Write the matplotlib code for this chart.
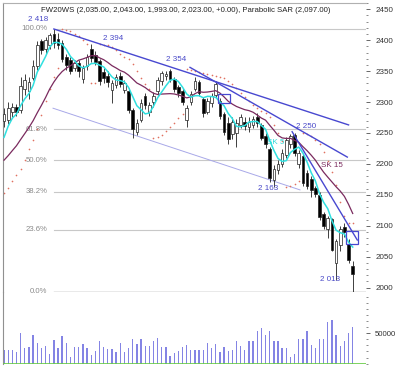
import matplotlib.pyplot as plt
import numpy as np
import pandas as pd
from matplotlib.patches import Rectangle
from matplotlib.ticker import MultipleLocator

plt.rcParams['font.family'] = ['Liberation Sans', 'DejaVu Sans']

# daily OHLC
opens = [2270, 2272, 2284, 2292, 2288, 2322, 2318, 2340, 2358, 2398,
         2386, 2392, 2410, 2402, 2395, 2372, 2368, 2356, 2362, 2337,
         2358, 2386, 2376, 2366, 2348, 2342, 2320, 2328, 2342, 2320,
         2318, 2287, 2252, 2272, 2310, 2285, 2300, 2318, 2334, 2342,
         2350, 2336, 2324, 2318, 2272, 2300, 2322, 2332, 2305, 2285,
         2298, 2312, 2302, 2280, 2266, 2248, 2250, 2264, 2268, 2260,
         2264, 2276, 2262, 2245, 2224, 2175, 2190, 2200, 2214, 2232,
         2246, 2200, 2212, 2185, 2176, 2160, 2150, 2118, 2096, 2110,
         2040, 2070, 2098, 2070, 2035]
highs = [2290, 2300, 2298, 2296, 2340, 2345, 2340, 2368, 2398, 2402,
         2405, 2412, 2418, 2412, 2400, 2378, 2372, 2368, 2368, 2360,
         2378, 2394, 2382, 2370, 2355, 2350, 2336, 2345, 2348, 2336,
         2322, 2290, 2272, 2305, 2315, 2300, 2316, 2340, 2350, 2350,
         2354, 2340, 2328, 2322, 2295, 2318, 2340, 2336, 2308, 2306,
         2315, 2334, 2306, 2284, 2276, 2275, 2272, 2280, 2276, 2275,
         2278, 2282, 2266, 2250, 2228, 2198, 2206, 2224, 2244, 2248,
         2250, 2222, 2216, 2190, 2180, 2164, 2154, 2122, 2116, 2112,
         2078, 2100, 2104, 2078, 2043]
lows = [2260, 2265, 2276, 2278, 2282, 2312, 2305, 2335, 2352, 2378,
        2378, 2385, 2388, 2385, 2365, 2352, 2345, 2350, 2340, 2330,
        2352, 2364, 2360, 2328, 2330, 2325, 2298, 2322, 2325, 2315,
        2282, 2242, 2246, 2268, 2288, 2278, 2292, 2312, 2328, 2336,
        2332, 2316, 2308, 2295, 2260, 2295, 2318, 2310, 2276, 2280,
        2292, 2306, 2272, 2246, 2232, 2240, 2228, 2258, 2255, 2252,
        2258, 2260, 2238, 2226, 2170, 2163, 2184, 2195, 2210, 2226,
        2212, 2194, 2165, 2160, 2147, 2146, 2110, 2094, 2080, 2060,
        2013, 2060, 2082, 2040, 1993]
closes = [2280, 2290, 2292, 2284, 2325, 2335, 2332, 2358, 2392, 2385,
          2400, 2408, 2396, 2392, 2370, 2360, 2350, 2362, 2350, 2354,
          2372, 2372, 2365, 2335, 2340, 2333, 2330, 2340, 2330, 2330,
          2288, 2256, 2266, 2298, 2296, 2295, 2310, 2335, 2346, 2345,
          2338, 2322, 2315, 2300, 2290, 2312, 2334, 2315, 2283, 2302,
          2310, 2328, 2278, 2252, 2240, 2268, 2265, 2275, 2262, 2268,
          2272, 2266, 2242, 2232, 2178, 2192, 2200, 2218, 2238, 2244,
          2218, 2218, 2170, 2165, 2158, 2152, 2115, 2100, 2112, 2062,
          2075, 2095, 2090, 2045, 2023]
# closes before the first visible bar (only feed the moving averages)
pre_closes = [2180, 2170, 2165, 2175, 2190, 2185, 2195, 2200, 2205, 2210,
              2200, 2228, 2250, 2257]
volumes = [22200, 22200, 22200, 19400, 51000, 25000, 27700, 47200, 34400, 26600,
           28900, 16600, 38900, 26600, 46600, 34400, 11100, 27700, 27700, 32200,
           26600, 13900, 20500, 37200, 27700, 24400, 24400, 19400, 34400, 18900,
           25000, 40500, 32200, 40000, 28900, 29900, 37800, 42800, 27700, 27700,
           12200, 17800, 21100, 27700, 31100, 23300, 23300, 22200, 23300, 34400,
           25000, 32200, 19400, 27700, 20500, 22200, 37800, 28900, 22200, 37200,
           37200, 54400, 58300, 47200, 53800, 37800, 37800, 26600, 26100, 11100,
           15500, 40000, 41100, 53800, 30500, 25000, 40000, 40500, 69400, 72200,
           47200, 28900, 37800, 50000, 61100]

fib_pcts = [0.0, 0.236, 0.382, 0.5, 0.618, 1.0]
fib_low = 1993
fib_high = 2418
fib_start = 12

peak_labels = [(8.2, 2434, '2 418'), (26.3, 2403, '2 394'), (41.4, 2368, '2 354'),
               (72.8, 2261, '2 250'), (63.6, 2160, '2 163'), (78.6, 2013, '2 013')]
trend_lines = [((12, 2418), (83, 2263)),
               ((44.8, 2356), (82.7, 2211)),
               ((69.4, 2252), (85.1, 2077))]
channel_line = ((11.8, 2290), (71.3, 2158))
boxes = [(51.6, 2298, 2.9, 15), (82.4, 2071, 2.9, 21)]


def parabolic_sar(high, low, sar0, af0, step=0.02, af_max=0.2):
    sar = np.empty(len(high))
    sar[0] = sar0
    up, af, ep = True, af0, high[0]
    for i in range(1, len(high)):
        s = sar[i-1] + af * (ep - sar[i-1])
        if up:
            s = min(s, low[i-1], low[max(i-2, 0)])
            if low[i] < s:
                up, s, ep, af = False, ep, low[i], step
            elif high[i] > ep:
                ep, af = high[i], min(af + step, af_max)
        else:
            s = max(s, high[i-1], high[max(i-2, 0)])
            if high[i] > s:
                up, s, ep, af = True, ep, high[i], step
            elif low[i] < ep:
                ep, af = low[i], min(af + step, af_max)
        sar[i] = s
    return sar


x = np.arange(len(closes))
o, h, l, c = map(np.array, (opens, highs, lows, closes))

all_close = pd.Series(pre_closes + closes, dtype=float)
sk5 = all_close.rolling(5).mean().to_numpy()[len(pre_closes):]
sk15 = all_close.rolling(15).mean().to_numpy()[len(pre_closes):]
sar = parabolic_sar(h, l, 2153, 0.06)

fig = plt.figure(figsize=(4, 3.66), dpi=100)
ax = fig.add_axes([0.0075, 0.2022, 0.9075, 0.7896])
axv = fig.add_axes([0.0075, 0.0068, 0.9075, 0.1954], sharex=ax)

# fibonacci retracement
for p in fib_pcts:
    lvl = fib_low + p * (fib_high - fib_low)
    col = '#909090' if p == 0 else '#c8c8c8'
    ax.plot([fib_start, 100], [lvl, lvl], color=col, lw=1.0 if p == 0 else 0.8, zorder=1)
    ax.text(10.5, lvl, f'{p*100:.1f}%', color='#8a8a8a', fontsize=5.6,
            ha='right', va='center', zorder=1)

# SAR dots
ax.plot(x, sar, ls='none', marker='o', ms=1.2, mec='none', mfc='#e07060', zorder=2)

# candles
up = c >= o
ax.vlines(x, l, h, color='#202020', lw=0.6, zorder=3)
ax.bar(x, np.abs(c - o) + 0.8, bottom=np.minimum(o, c) - 0.4, width=0.64,
       color=np.where(up, 'white', 'black'), edgecolor='#202020', lw=0.5, zorder=4)

# moving averages
ax.plot(x, sk15, color='#7a2a5e', lw=0.9, zorder=5)
ax.plot(x, sk5, color='#30e0e0', lw=1.1, zorder=5)
ax.text(65.5, 2234, 'SK 5', color='#30d8d8', fontsize=5.8, ha='center', va='center', zorder=2)
ax.text(79, 2198, 'SK 15', color='#7a2a5e', fontsize=5.8, ha='center', va='center', zorder=6)

# trend lines and boxes
for (x0, y0), (x1, y1) in trend_lines:
    ax.plot([x0, x1], [y0, y1], color='#4848d0', lw=1.0, zorder=6)
(x0, y0), (x1, y1) = channel_line
ax.plot([x0, x1], [y0, y1], color='#a8a8e8', lw=0.7, zorder=1)
for bx, by, bw, bh in boxes:
    ax.add_patch(Rectangle((bx, by), bw, bh, fill=False, ec='#4848d0', lw=0.9, zorder=6))

for px, py, txt in peak_labels:
    ax.text(px, py, txt, color='#4848c8', fontsize=5.8, ha='center', va='center', zorder=7)

ax.set_xlim(-0.25, 87.2)
ax.set_ylim(1993, 2460)
ax.yaxis.tick_right()
ax.yaxis.set_minor_locator(MultipleLocator(10))
ax.set_yticks(np.arange(2000, 2451, 50))
ax.tick_params(axis='y', which='major', length=3, width=0.7, color='#666666',
               labelsize=5.8, labelcolor='#333333', pad=4)
ax.tick_params(axis='y', which='minor', length=1.6, width=0.6, color='#777777')
ax.tick_params(axis='x', bottom=False, labelbottom=False)
for side in ['right', 'bottom']:
    ax.spines[side].set_visible(False)
ax.spines['left'].set_color('#909090')
ax.spines['top'].set_color('#b0b0b0')
ax.spines['top'].set_linewidth(0.8)

fig.text(41 / 400, 1 - 10.5 / 366,
         'FW20WS (2,035.00, 2,043.00, 1,993.00, 2,023.00, +0.00), Parabolic SAR (2,097.00)',
         fontsize=5.6, color='#222222', ha='left', va='center')

# volume panel
axv.bar(x, volumes, width=0.32, color='#8484e4', zorder=2)
axv.axhline(0, color='#66cc44', lw=1.2, zorder=3)
axv.set_ylim(0, 119000)
axv.yaxis.tick_right()
axv.set_yticks([50000])
axv.yaxis.set_minor_locator(MultipleLocator(10000))
axv.tick_params(axis='y', which='major', length=3, width=0.7, color='#666666',
                labelsize=5.6, labelcolor='#333333', pad=3)
axv.tick_params(axis='y', which='minor', length=1.6, width=0.6, color='#777777')
axv.tick_params(axis='x', bottom=False, labelbottom=False)
for side in ['right', 'bottom', 'top']:
    axv.spines[side].set_visible(False)
axv.spines['left'].set_color('#909090')
axv.patch.set_alpha(0)

fig.savefig('out.png', dpi=100)
